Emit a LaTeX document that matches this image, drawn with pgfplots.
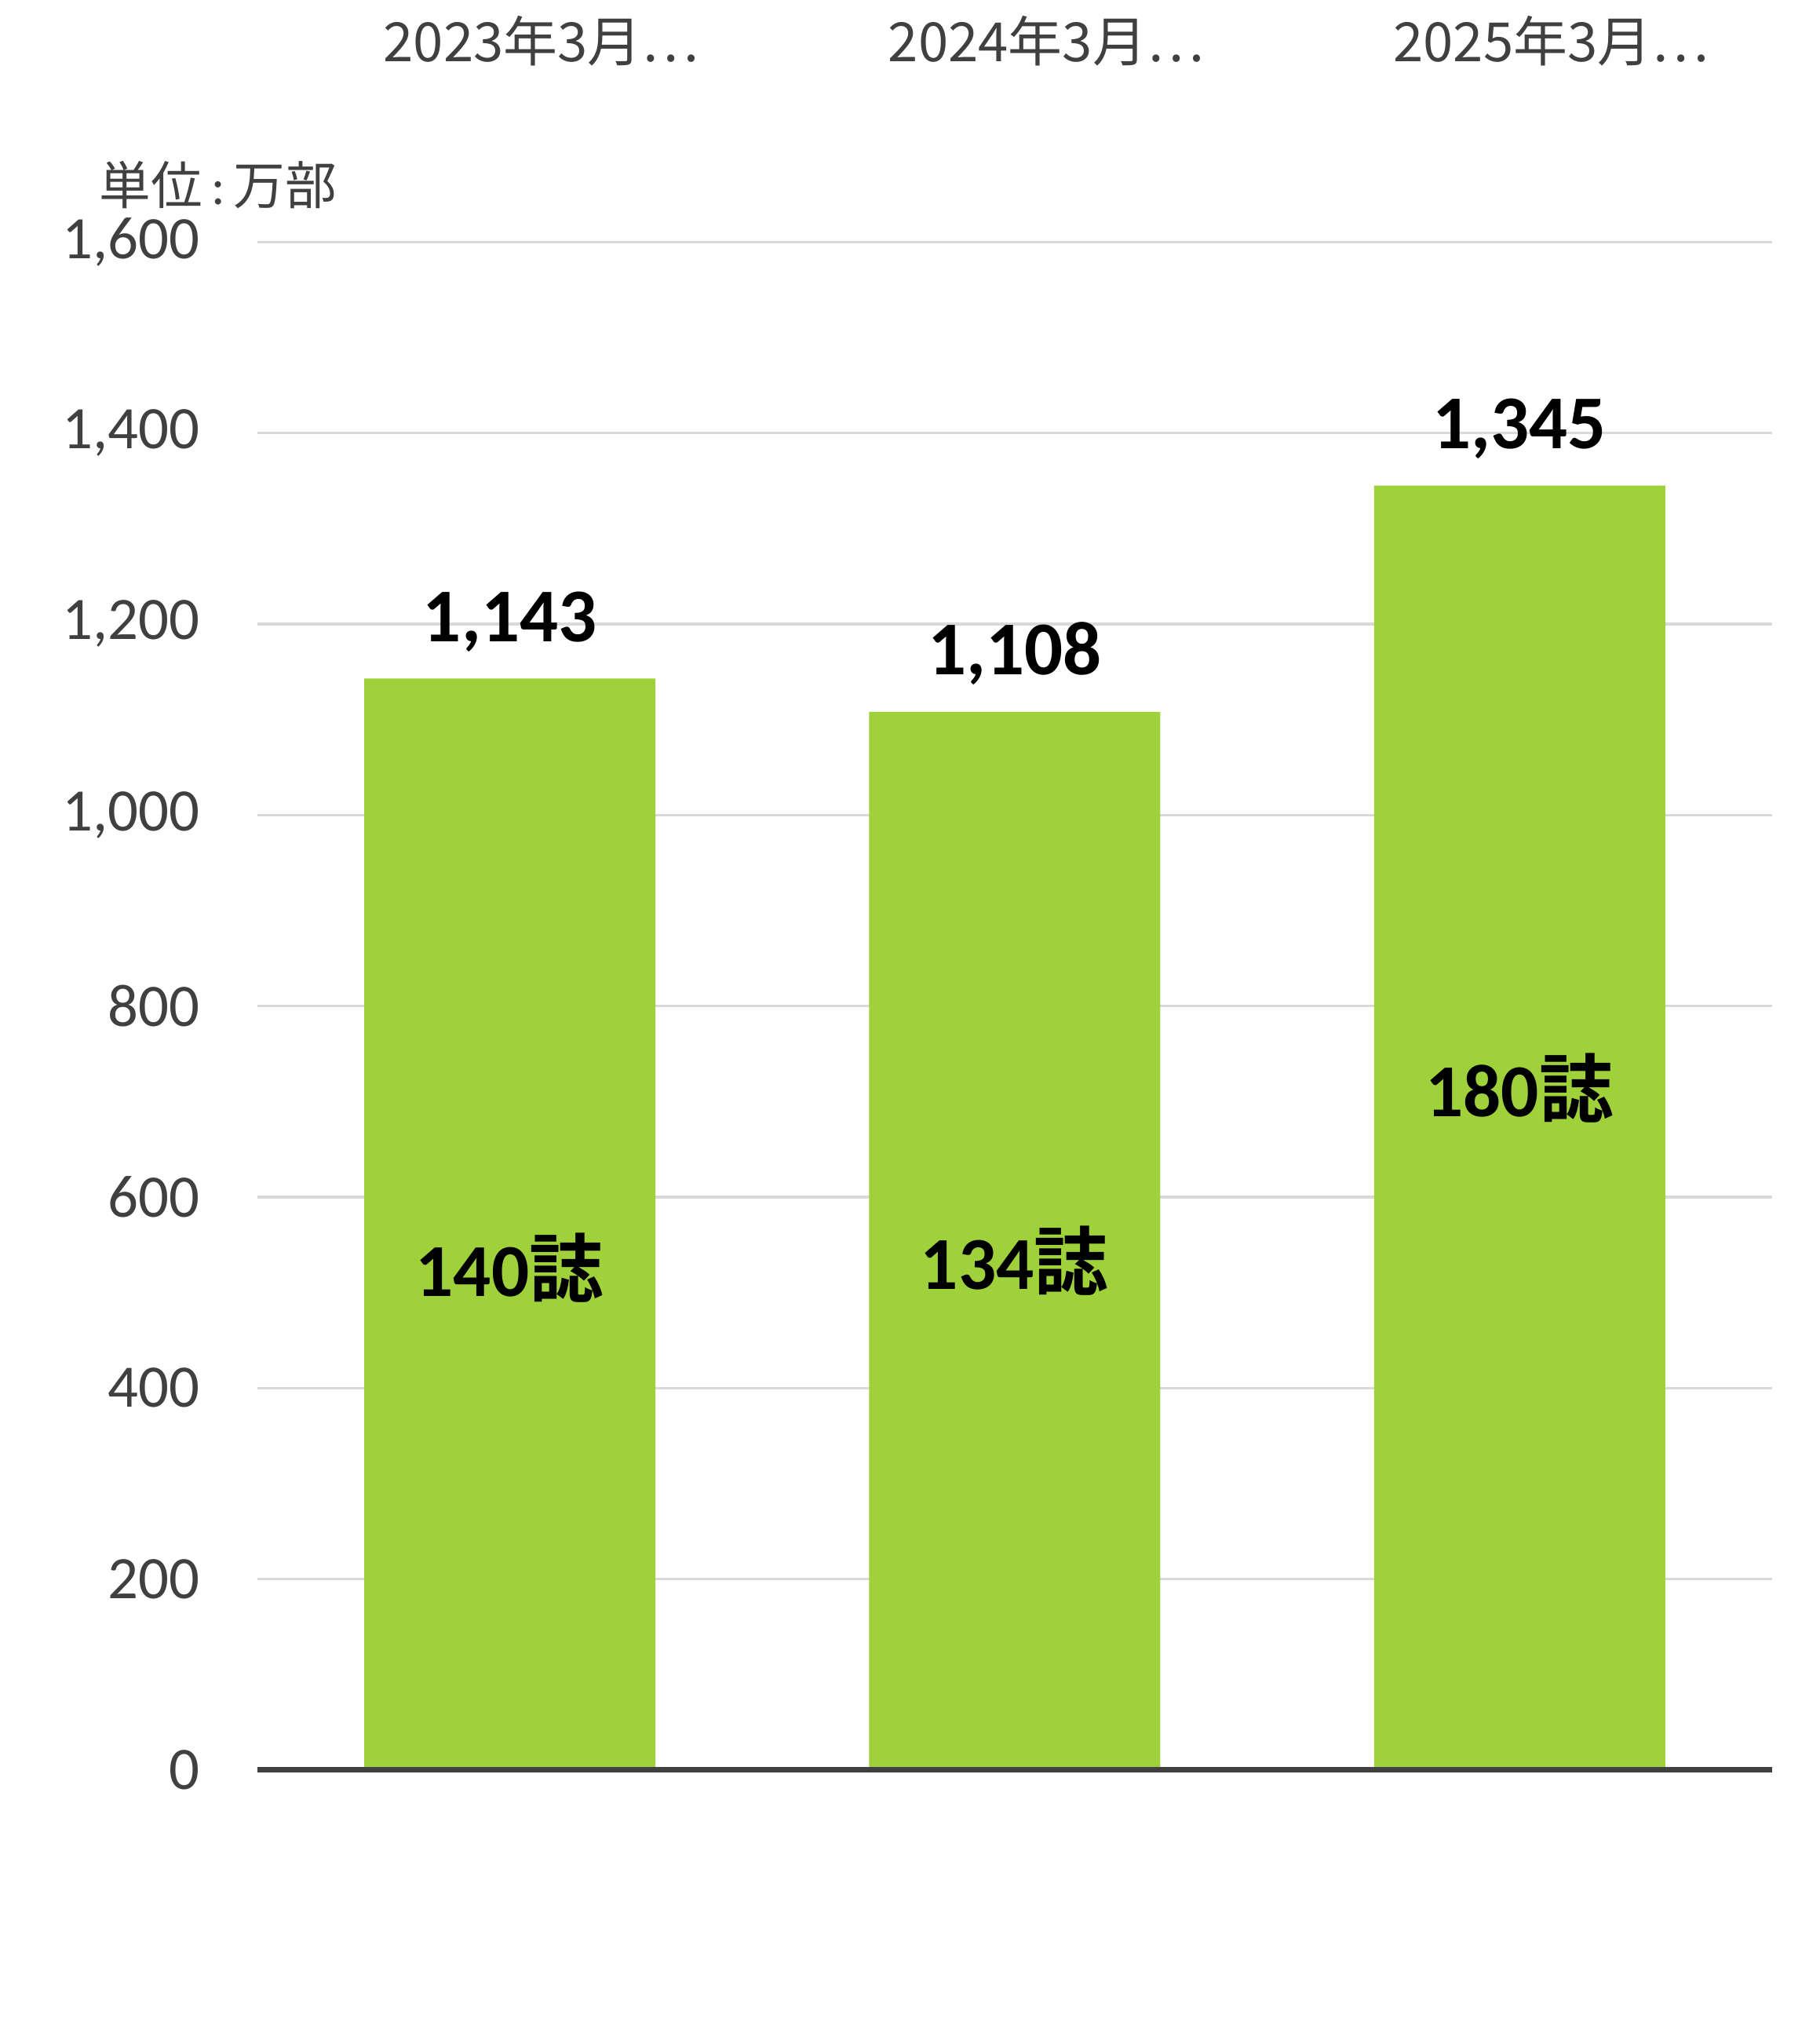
\documentclass[border=0pt]{standalone}
\usepackage{pgfplots}
\pgfplotsset{compat=1.18}
\usepackage{fontspec}
\setmainfont{Carlito}
\newfontfamily\cjk{Noto Sans CJK JP}[BoldFont={Noto Sans CJK JP Bold}]

\definecolor{bargreen}{RGB}{159,210,58}
\definecolor{txtgray}{RGB}{64,64,64}
\definecolor{gridgray}{RGB}{217,217,217}

\tikzset{
  coltitle/.style={anchor=base, inner sep=0pt, xshift=12.2pt, yshift=70pt,
    font=\cjk\fontsize{21}{25}\selectfont, text=txtgray},
  inlabel/.style={font=\fontsize{29}{34}\selectfont\bfseries},
}

\begin{document}
\begin{tikzpicture}
  % page frame, measured on the reference (1 px there = 0.3046pt)
  \useasboundingbox (-99.9pt,-99.3pt) rectangle (606.1pt,686.8pt);
  \begin{axis}[
    scale only axis,
    width=587.8pt,
    height=592.9pt,
    xmin=-0.5, xmax=2.5,
    ymin=0, ymax=1600,
    enlargelimits=false,
    clip=false,
    axis line style={draw=none},
    xtick=\empty,
    ytick={0,200,...,1600},
    major tick length=0pt,
    ymajorgrids,
    grid style={gridgray, line width=1pt},
    /pgf/number format/assume math mode=true,
    /pgf/number format/1000 sep={,},
    yticklabel style={anchor=east, inner sep=0pt, xshift=-22.2pt,
      font=\fontsize{23.4}{28}\selectfont, text=txtgray},
    ybar,
    bar width=113pt,
    nodes near coords,
    nodes near coords style={anchor=base, yshift=14.3pt, inner sep=0pt,
      font=\fontsize{29.5}{35}\selectfont\bfseries, text=black,
      /pgf/number format/1000 sep={,}},
  ]
    \addplot[fill=bargreen, draw=none] coordinates {(0,1143) (1,1108) (2,1345)};

    \draw[txtgray, line width=2.13pt] (rel axis cs:0,0) -- (rel axis cs:1,0);

    % titles of the columns, set above the plot
    \node[coltitle] at (axis cs:0,1600) {2023年3月…};
    \node[coltitle] at (axis cs:1,1600) {2024年3月…};
    \node[coltitle] at (axis cs:2,1600) {2025年3月…};

    \node[anchor=base west, inner sep=0pt, xshift=-61.5pt, yshift=14.5pt,
      font=\fontsize{20}{24}\selectfont, text=txtgray]
      at (rel axis cs:0,1) {{\cjk 単位}\,:\,{\cjk 万部}};

    % number of magazines inside the bars
    \node[inlabel] at (axis cs:0,526) {140{\cjk\bfseries 誌}};
    \node[inlabel] at (axis cs:1,533) {134{\cjk\bfseries 誌}};
    \node[inlabel] at (axis cs:2,714) {180{\cjk\bfseries 誌}};
  \end{axis}
\end{tikzpicture}
\end{document}
